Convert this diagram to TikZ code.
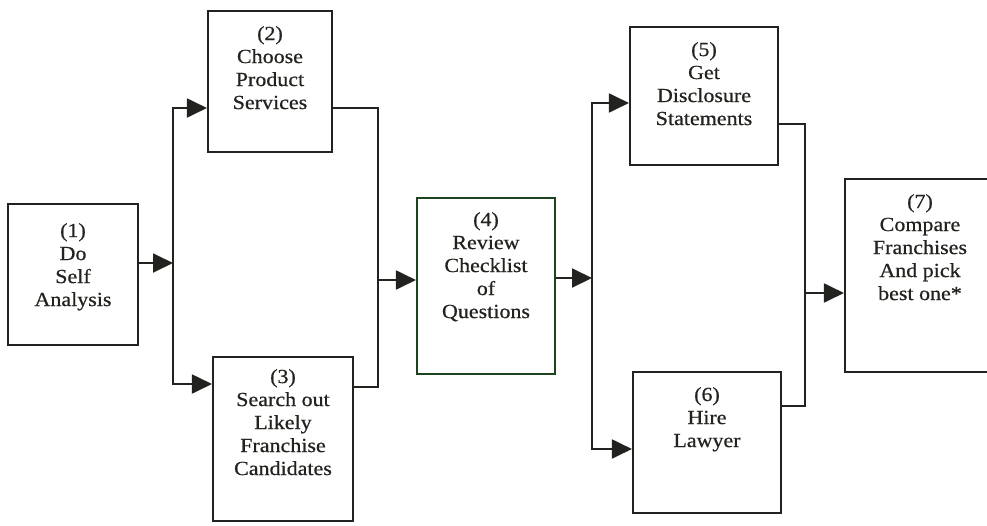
\documentclass[tikz,border=0pt]{standalone}
\usepackage{fontspec}
\setmainfont{Liberation Serif}
\newfontfamily\stepfont[FakeStretch=1.1,FakeBold=0.6]{Liberation Serif}
\usetikzlibrary{arrows.meta,positioning}
\definecolor{ink}{RGB}{34,34,30}
\definecolor{greenink}{RGB}{28,66,30}
\tikzset{
  stepbox/.style={draw=ink, line width=2.1pt, rectangle, inner sep=0pt},
  steptext/.style={anchor=north, align=center, text=ink, inner sep=0pt,
    font=\stepfont\fontsize{20pt}{23pt}\selectfont},
  wire/.style={draw=ink, line width=1.9pt},
  arr/.style={wire, -{Triangle[length=20pt,width=19pt]}},
}
\begin{document}
\begin{tikzpicture}[x=1pt,y=-1pt]
\useasboundingbox (0,0) rectangle (987,525);

% process boxes
\node[stepbox, minimum width=130pt, minimum height=141pt] (b1) at (73,274.5) {};
\node[stepbox, minimum width=124pt, minimum height=141pt] (b2) at (270,81.5) {};
\node[stepbox, minimum width=140pt, minimum height=164pt] (b3) at (283,439) {};
\node[stepbox, draw=greenink, minimum width=138pt, minimum height=176pt] (b4) at (486,286) {};
\node[stepbox, minimum width=148pt, minimum height=138pt] (b5) at (704,96) {};
\node[stepbox, minimum width=148pt, minimum height=141pt] (b6) at (707,442.5) {};
\node[stepbox, minimum width=150pt, minimum height=193pt] (b7) at (920,275.5) {};

% box captions
\node[steptext] (t1) at ([yshift=-20pt]b1.north) {(1)\\Do\\Self\\Analysis};
\node[steptext] (t2) at ([yshift=-16pt]b2.north) {(2)\\Choose\\Product\\Services};
\node[steptext] (t3) at ([yshift=-13pt]b3.north) {(3)\\Search out\\Likely\\Franchise\\Candidates};
\node[steptext] (t4) at ([yshift=-15pt]b4.north) {(4)\\Review\\Checklist\\of\\Questions};
\node[steptext] (t5) at ([yshift=-16pt]b5.north) {(5)\\Get\\Disclosure\\Statements};
\node[steptext] (t6) at ([yshift=-16pt]b6.north) {(6)\\Hire\\Lawyer};
\node[steptext] (t7) at ([yshift=-16pt]b7.north) {(7)\\Compare\\Franchises\\And pick\\best one*};

% junction points of the branching lines
\coordinate (j1) at (173,263);
\coordinate (j2) at (378,280);
\coordinate (j3) at (592,278);
\coordinate (j4) at (805,293);

% (1) splits into (2) and (3)
\draw[arr] (b1.east |- j1) -- (j1);
\draw[arr] (j1) |- (b2.west |- 0,108);
\draw[arr] (j1) |- (b3.west |- 0,384);

% (2) and (3) merge into (4)
\draw[wire] (b2.east |- 0,108) -| (j2);
\draw[wire] (b3.east |- 0,387) -| (j2);
\draw[arr] (j2) -- (b4.west |- j2);

% (4) splits into (5) and (6)
\draw[arr] (b4.east |- j3) -- (j3);
\draw[arr] (j3) |- (b5.west |- 0,103);
\draw[arr] (j3) |- (b6.west |- 0,449);

% (5) and (6) merge into (7)
\draw[wire] (b5.east |- 0,124) -| (j4);
\draw[wire] (b6.east |- 0,406) -| (j4);
\draw[arr] (j4) -- (b7.west |- j4);
\end{tikzpicture}
\end{document}
